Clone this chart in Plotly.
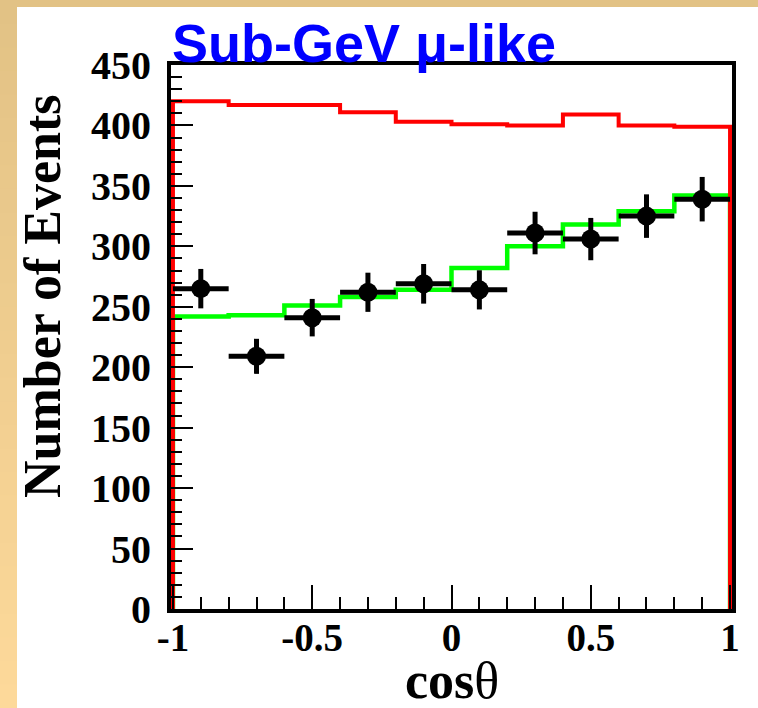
import plotly.graph_objects as go

# ---------------- data ----------------
bin_edges = [-1.0, -0.8, -0.6, -0.4, -0.2, 0.0, 0.2, 0.4, 0.6, 0.8, 1.0]
bin_centers = [-0.9, -0.7, -0.5, -0.3, -0.1, 0.1, 0.3, 0.5, 0.7, 0.9]
mc_no_osc = [420, 417, 417, 411, 403, 401, 400, 409, 400, 399]
mc_osc = [242, 243, 251, 258, 264, 282, 300, 318, 329, 342]
data_counts = [265, 209, 241, 262, 269, 264, 311, 306, 325, 339]
data_errors = [16.3, 14.5, 15.5, 16.2, 16.4, 16.2, 17.6, 17.5, 18.0, 18.4]
x_tickvals = [-1, -0.5, 0, 0.5, 1]
x_ticktext = ["-1", "-0.5", "0", "0.5", "1"]
y_tickvals = [0, 50, 100, 150, 200, 250, 300, 350, 400, 450]
y_ticktext = ["0", "50", "100", "150", "200", "250", "300", "350", "400", "450"]
title_text = "Sub-GeV \u03bc-like"
y_title = "Number of Events"

# ---------------- layout constants ----------------
W, H = 758, 708
L, R, T, B = 171, 26, 65, 99
PW, PH = W - L - R, H - T - B


def px_x(px):
    return (px - L) / PW


def px_y(py):
    return (H - B - py) / PH


def step_xy(edges, values):
    xs = [edges[0]] + list(edges) + [edges[-1]]
    ys = [0] + list(values) + [values[-1], 0]
    return xs, ys


half_widths = [(bin_edges[i + 1] - bin_edges[i]) / 2 for i in range(len(bin_centers))]

fig = go.Figure()

gx, gy = step_xy(bin_edges, mc_osc)
fig.add_trace(go.Scatter(x=gx, y=gy, mode="lines", line=dict(color="#00ff00", width=4.5, shape="hv"),
                         hoverinfo="skip", showlegend=False))
rx, ry = step_xy(bin_edges, mc_no_osc)
fig.add_trace(go.Scatter(x=rx, y=ry, mode="lines", line=dict(color="#ff0000", width=4, shape="hv"),
                         hoverinfo="skip", showlegend=False))
fig.add_trace(go.Scatter(
    x=bin_centers, y=data_counts, mode="markers",
    marker=dict(color="black", size=19, symbol="circle"),
    error_x=dict(type="data", array=half_widths, width=0, thickness=5, color="black"),
    error_y=dict(type="data", array=data_errors, width=0, thickness=5, color="black"),
    showlegend=False,
))

serif = "Liberation Serif, Times New Roman, serif"
sans = "Liberation Sans, Arial, sans-serif"

# background border (tan gradient on the left, tan strip on top)
shapes = []
top_c = (0xE2, 0xC2, 0x85)
bot_c = (0xFD, 0xD9, 0x9A)
n = 30
for i in range(n):
    f = i / (n - 1)
    c = tuple(round(top_c[k] + (bot_c[k] - top_c[k]) * f) for k in range(3))
    y0 = H * i / n
    y1 = H * (i + 1) / n + 1
    shapes.append(dict(type="rect", xref="paper", yref="paper", layer="below",
                       x0=px_x(0), x1=px_x(17), y0=px_y(y1), y1=px_y(y0),
                       fillcolor="rgb(%d,%d,%d)" % c, line=dict(width=0)))
shapes.append(dict(type="rect", xref="paper", yref="paper", layer="below",
                   x0=px_x(0), x1=px_x(W), y0=px_y(7), y1=px_y(0),
                   fillcolor="rgb(226,194,133)", line=dict(width=0)))

fig.update_layout(
    width=W, height=H,
    margin=dict(l=L, r=R, t=T, b=B, pad=0),
    paper_bgcolor="white", plot_bgcolor="white",
    shapes=shapes,
    xaxis=dict(range=[-1.007, 1.007], showgrid=False, zeroline=False,
               showline=True, linecolor="black", linewidth=4, mirror=True,
               ticks="inside", ticklen=24, tickwidth=2, tickcolor="black",
               tickvals=x_tickvals, ticktext=x_ticktext,
               minor=dict(ticks="inside", ticklen=12, tickwidth=2, tickcolor="black", dtick=0.1, showgrid=False),
               tickfont=dict(family=serif, size=39, color="black", weight="bold"),
               ticklabelstandoff=-9),
    yaxis=dict(range=[0, 450], showgrid=False, zeroline=False,
               showline=True, linecolor="black", linewidth=4, mirror=True,
               ticks="inside", ticklen=22, tickwidth=2, tickcolor="black",
               tickvals=y_tickvals, ticktext=y_ticktext,
               minor=dict(ticks="inside", ticklen=11, tickwidth=2, tickcolor="black", dtick=10, showgrid=False),
               tickfont=dict(family=serif, size=40, color="black", weight="bold"),
               ticklabelstandoff=8),
    annotations=[
        dict(text=title_text, xref="paper", yref="paper", x=px_x(170), y=px_y(75),
             xanchor="left", yanchor="bottom", showarrow=False,
             font=dict(family=sans, size=54, color="#0000ff", weight="bold")),
        dict(text=y_title, xref="paper", yref="paper", x=px_x(42), y=px_y(297),
             xanchor="center", yanchor="middle", textangle=-90, showarrow=False,
             font=dict(family=serif, size=52, color="black", weight="bold")),
        dict(text="cos<span style='font-weight:normal'>\u03b8</span>", xref="paper", yref="paper",
             x=px_x(452), y=px_y(680), xanchor="center", yanchor="middle", showarrow=False,
             font=dict(family=serif, size=52, color="black", weight="bold")),
    ],
)

fig.write_html("out.html")
